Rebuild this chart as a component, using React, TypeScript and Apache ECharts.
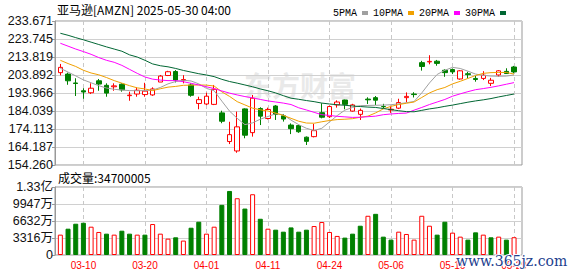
import React, { useEffect, useRef } from "react";
import * as echarts from "echarts";

const dates = ["03-05","03-06","03-07","03-10","03-11","03-12","03-13","03-14","03-17","03-18","03-19","03-20","03-21","03-24","03-25","03-26","03-27","03-28","03-31","04-01","04-02","04-03","04-04","04-07","04-08","04-09","04-10","04-11","04-14","04-15","04-16","04-17","04-21","04-22","04-23","04-24","04-25","04-28","04-29","04-30","05-01","05-02","05-05","05-06","05-07","05-08","05-09","05-12","05-13","05-14","05-15","05-16","05-19","05-20","05-21","05-22","05-23","05-27","05-28","05-29"];

const opens = [205.2,204.4,199.5,195.2,194.1,200.7,198.2,197.4,198.8,192.5,193.4,193.1,192.9,200.0,203.6,205.8,200.9,198.4,188.2,187.9,187.7,183.0,167.2,162.0,185.2,172.1,185.4,179.9,186.8,181.4,176.3,176.0,169.6,169.9,183.1,180.9,187.4,190.1,184.0,182.2,190.6,191.4,186.5,184.6,185.6,191.4,193.4,210.7,211.1,211.5,206.5,206.9,201.7,204.6,202.0,202.0,199.3,203.9,205.9,208.3];
const closes = [208.1,200.7,199.2,194.5,196.6,198.9,193.9,197.9,195.7,192.8,195.5,195.0,196.2,203.3,205.7,201.1,201.4,192.7,190.3,192.2,196.0,178.4,171.0,175.3,170.7,191.1,181.2,184.9,182.1,179.6,174.3,172.6,167.3,173.2,180.6,186.5,189.0,187.7,187.4,184.4,190.2,190.0,186.4,185.0,188.7,192.1,193.1,208.6,211.4,210.3,205.2,205.6,206.2,204.1,201.4,203.8,201.0,206.2,204.7,205.6];
const lows = [203.7,198.5,192.3,190.8,193.4,195.2,191.9,195.2,194.7,189.7,191.9,191.9,192.4,200.0,203.3,199.8,199.3,191.9,185.0,187.3,187.3,177.3,165.8,161.0,169.0,169.9,176.3,179.4,179.1,178.2,171.3,172.0,165.3,169.5,180.0,180.2,185.9,185.0,183.7,179.1,187.9,187.3,185.5,183.0,185.1,188.8,191.5,206.3,209.8,209.0,202.9,204.4,201.3,202.1,200.2,201.1,197.8,203.0,204.6,204.8];
const highs = [210.0,205.2,202.1,196.6,199.3,201.7,199.3,199.3,199.3,194.7,197.1,199.6,197.1,203.9,206.2,206.6,203.8,199.3,191.9,194.1,198.4,184.2,178.1,183.7,185.5,192.9,186.1,185.9,187.3,182.4,177.2,176.5,170.0,176.9,188.3,187.0,189.9,190.3,188.0,185.4,191.6,192.3,188.0,187.0,190.8,194.3,194.4,211.7,214.8,212.2,207.0,207.5,206.6,205.7,203.4,206.0,202.3,206.6,207.6,208.9];

const volumes = [39700000,51300000,61000000,62900000,55200000,44900000,41600000,39700000,47400000,41600000,39700000,39700000,60400000,41600000,31900000,34500000,28100000,53200000,64900000,41600000,55200000,97800000,124900000,110700000,90600000,118500000,70700000,51300000,49400000,45500000,53800000,45500000,49400000,56500000,64300000,44900000,37200000,33900000,41600000,57100000,76500000,80300000,35800000,30000000,45500000,41000000,30000000,76500000,57100000,39700000,64900000,43600000,35800000,30000000,44200000,39700000,34500000,35800000,30000000,34700005];
const volUp = [1,0,0,0,1,1,0,1,0,0,1,0,1,1,1,0,1,0,0,1,1,0,0,1,0,1,0,1,0,0,0,0,0,1,1,1,1,0,0,0,1,0,0,0,1,1,1,1,1,0,0,1,1,0,0,1,0,1,0,1];

const ma5 = [207.6,205.5,203.4,201.2,199.6,198.0,196.7,196.0,195.6,195.3,195.2,195.3,195.6,197.0,199.0,200.3,201.0,200.6,199.0,196.5,195.2,189.5,184.0,180.0,176.5,177.5,179.5,181.0,182.5,182.0,179.0,176.5,174.5,173.3,174.5,178.0,181.5,184.5,186.0,187.0,187.1,187.2,187.3,187.5,188.0,188.6,189.3,194.0,199.5,204.2,206.5,208.1,207.5,206.0,204.4,203.7,203.3,203.2,203.3,203.9];
const ma10 = [212.0,210.2,208.6,206.5,205.0,204.0,202.5,200.8,199.4,198.0,196.8,196.2,195.3,196.3,197.2,197.6,198.2,198.3,198.4,198.3,197.8,194.6,192.1,189.2,187.4,185.6,184.7,184.0,182.9,181.6,180.0,178.4,177.4,177.3,178.1,178.8,179.3,179.5,179.8,180.6,181.2,183.0,185.2,186.6,187.6,188.3,189.0,191.5,194.0,195.8,197.0,199.0,200.4,202.0,203.6,204.8,205.2,205.3,205.3,204.4];
const ma20 = [221.4,219.8,218.2,216.8,215.3,213.5,212.0,210.9,209.2,207.0,204.8,202.8,201.6,201.1,200.8,200.8,200.2,199.3,198.4,197.4,196.4,195.1,193.9,192.9,192.0,191.3,190.4,189.6,189.0,188.4,187.6,185.8,184.6,183.3,182.0,181.6,181.1,180.8,180.5,180.6,180.9,181.2,182.0,182.4,182.7,182.9,184.5,186.0,187.6,189.0,190.4,192.2,193.5,194.7,195.8,196.4,197.1,197.9,198.8,199.7];
const ma30 = [226.9,225.8,224.5,223.3,222.0,220.7,219.4,218.2,217.0,215.0,213.8,212.0,210.0,209.0,208.4,207.5,206.4,205.5,204.6,203.9,203.0,201.5,200.3,199.4,198.4,197.4,196.2,195.2,194.0,192.5,191.1,190.5,189.8,189.2,188.4,187.9,187.5,187.2,186.8,186.5,186.2,186.0,185.4,184.8,184.2,183.7,183.6,184.4,185.2,185.8,186.6,187.3,188.1,188.9,189.6,190.2,190.9,191.8,192.6,193.4];

const priceTicks = ["154.260","164.187","174.113","184.039","193.966","203.892","213.819","223.745","233.671"];
const volTicks = ["0","3316万","6632万","9947万","1.33亿"];
const maNames = ["5PMA","10PMA","20PMA","30PMA"];

const PMIN = 154.26;
const PMAX = 233.671;
const PINT = (PMAX - PMIN) / 8;
const VMAX = 132630000;
const VINT = VMAX / 4;

export default function App() {
  const ref = useRef<HTMLDivElement>(null);
  useEffect(() => {
    const chart = echarts.init(ref.current!, null, { renderer: "svg" });
    const RED = "#ff0000";
    const GREEN = "#008000";
    const maColors = ["#a0a0a0", "#f0a000", "#ff00ff", "#006633"];
    const isLabel = (i: number) => (i - 3) % 8 === 0;
    const vSplit = {
      show: true,
      interval: (i: number) => isLabel(i),
      alignWithLabel: true,
      lineStyle: { color: "#c8c8c8", type: [4, 3], width: 1 },
    };
    const frameY = (min: number, max: number, interval: number, labels: string[], gridIndex: number) => ({
      type: "value",
      gridIndex,
      min,
      max,
      interval,
      axisLine: { show: true, lineStyle: { color: "#999" } },
      axisTick: { show: true, length: 3, lineStyle: { color: "#999" } },
      axisLabel: {
        margin: 2,
        color: "#111",
        fontSize: 12.5,
        fontFamily: "Liberation Sans, Noto Sans CJK SC",
        formatter: (v: number) => labels[Math.round((v - min) / interval)],
      },
      splitLine: { show: true, lineStyle: { color: "#d0d0d0", width: 1 } },
    });
    const maSeries = [ma5, ma10, ma20, ma30].map((d, k) => ({
      type: "line",
      name: maNames[k],
      xAxisIndex: 1,
      yAxisIndex: 1,
      data: d,
      showSymbol: false,
      symbol: "none",
      lineStyle: { width: 1, color: maColors[k] },
      itemStyle: { color: maColors[k] },
      z: 3,
    }));
    const option = {
      animation: false,
      backgroundColor: "#ffffff",
      legend: {
        data: maNames,
        right: 67,
        top: 3,
        align: "right",
        icon: "rect",
        itemWidth: 6,
        itemHeight: 4,
        itemGap: 5,
        textStyle: { fontFamily: "Liberation Mono", fontSize: 10, color: "#000" },
      },
      grid: [
        { left: 55, top: 21, width: 467, height: 144, show: true, borderColor: "#999", borderWidth: 1 },
        { left: 56.5, top: 21, width: 461.4, height: 144 },
        { left: 55, top: 187, width: 467, height: 68, show: true, borderColor: "#999", borderWidth: 1 },
        { left: 56.5, top: 187, width: 461.4, height: 68 },
      ],
      xAxis: [
        { type: "value", gridIndex: 0, min: 0, max: 1, show: false },
        {
          type: "category", gridIndex: 1, data: dates, boundaryGap: true,
          axisLine: { show: false }, axisTick: { show: false }, axisLabel: { show: false },
          splitLine: vSplit,
        },
        { type: "value", gridIndex: 2, min: 0, max: 1, show: false },
        {
          type: "category", gridIndex: 3, data: dates, boundaryGap: true,
          axisLine: { show: false }, axisTick: { show: false },
          axisLabel: {
            show: true, interval: (i: number) => isLabel(i), color: RED,
            fontSize: 10, fontFamily: "Liberation Sans", margin: 5,
          },
          splitLine: vSplit,
        },
      ],
      yAxis: [
        frameY(PMIN, PMAX, PINT, priceTicks, 0),
        { type: "value", gridIndex: 1, min: PMIN, max: PMAX, show: false, splitLine: { show: false } },
        frameY(0, VMAX, VINT, volTicks, 2),
        { type: "value", gridIndex: 3, min: 0, max: VMAX, show: false, splitLine: { show: false } },
      ],
      series: [
        {
          type: "candlestick",
          xAxisIndex: 1,
          yAxisIndex: 1,
          barWidth: 5,
          data: dates.map((_, i) => [opens[i], closes[i], lows[i], highs[i]]),
          itemStyle: { color: "#ffffff", color0: GREEN, borderColor: RED, borderColor0: GREEN, borderWidth: 1 },
          z: 2,
        },
        ...maSeries,
        {
          type: "bar",
          xAxisIndex: 3,
          yAxisIndex: 3,
          barWidth: 5,
          data: volumes.map((v, i) => ({
            value: v,
            itemStyle: volUp[i]
              ? { color: "#ffffff", borderColor: RED, borderWidth: 1 }
              : { color: GREEN, borderColor: GREEN, borderWidth: 1 },
          })),
        },
      ],
      graphic: [
        {
          type: "text", x: 57, y: 9, z: 10,
          style: { text: "亚马逊[AMZN] 2025-05-30 04:00", fill: "#000", fontSize: 12, fontFamily: "Noto Sans CJK SC", verticalAlign: "middle" },
        },
        {
          type: "text", x: 58, y: 177.5, z: 10,
          style: { text: "成交量:" + volumes[volumes.length - 1], fill: "#000", fontSize: 12, fontFamily: "Noto Sans CJK SC", verticalAlign: "middle" },
        },
        {
          type: "text", x: 244, y: 85, z: 0,
          style: { text: "东方财富", fill: "#e4e4e4", fontSize: 28, fontWeight: "bold", fontFamily: "Noto Sans CJK SC", verticalAlign: "middle", opacity: 0.8 },
        },
        {
          type: "text", x: 456, y: 261, z: 20,
          style: { text: "www.365jz.com", fill: "#22408e", fontSize: 14, fontFamily: "DejaVu Serif", verticalAlign: "middle", stroke: "#ffffff", lineWidth: 2 },
        },
      ],
    };
    chart.setOption(option as any);
    return () => chart.dispose();
  }, []);
  return (
    <div
      ref={ref}
      style={{ position: "fixed", left: 0, top: 0, width: 578, height: 276, background: "#fff" }}
    />
  );
}
